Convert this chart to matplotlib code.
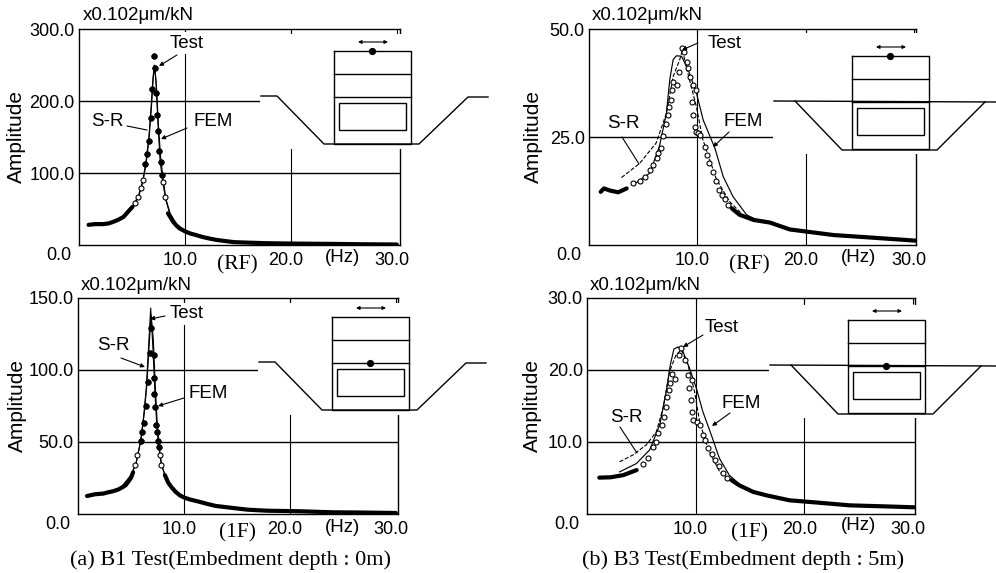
import numpy as np
import matplotlib
matplotlib.use("Agg")
import matplotlib.pyplot as plt
from matplotlib.patches import Rectangle
from matplotlib.transforms import ScaledTranslation

plt.rcParams["font.family"] = ["Liberation Sans", "DejaVu Sans"]

W, H = 996, 573

# B1 test, RF
a_test_x = [0.9, 1.5, 2.3, 2.8, 3.2, 3.7, 4.2, 4.5, 4.8, 5.05, 5.3, 5.6, 5.85, 6.05, 6.25, 6.4, 6.6, 6.75, 6.9, 7.08, 7.17,
            7.3, 7.35, 7.45, 7.55, 7.7, 7.8, 7.95, 8.1, 8.4, 8.65, 8.9, 9.2, 9.5, 10.0, 10.5, 11.0, 11.7, 12.3, 13.0, 14.6,
            15.5, 17.7, 20.0, 24.0, 27.0, 30.0]
a_test_y = [28, 29, 29, 30, 32, 35, 39, 44, 49, 53, 58, 67, 79, 90, 113, 127, 145, 176, 216, 263, 246,
            211, 180, 158, 130, 115, 97, 87, 67, 44, 38, 32, 27, 23, 19, 16, 14, 11, 9, 7, 4,
            3.5, 2.5, 2, 1.5, 1, 0.7]
a_sr_x = [1.0, 2.0, 3.0, 4.0, 5.0, 5.6, 6.0, 6.3, 6.6, 6.8, 6.95, 7.1, 7.25, 7.45, 7.65, 7.9, 8.2, 8.6, 9.2, 10.0, 12.0]
a_sr_y = [28, 29, 31, 37, 52, 68, 88, 113, 150, 190, 225, 250, 232, 170, 118, 88, 62, 42, 28, 19, 10]
a_fem_x = [5.0, 5.6, 6.0, 6.3, 6.6, 6.85, 7.0, 7.12, 7.3, 7.5, 7.7, 7.95, 8.2, 8.6, 9.2, 10.0]
a_fem_y = [52, 66, 86, 110, 146, 195, 232, 248, 222, 165, 122, 90, 64, 44, 29, 20]

# B1 test, 1F
c_test_x = [0.85, 1.6, 2.4, 2.8, 3.3, 3.8, 4.25, 4.5, 4.7, 5.0, 5.2, 5.35, 5.6, 5.9, 6.0, 6.2, 6.4, 6.6, 6.75, 6.92, 7.14,
            7.15, 7.2, 7.3, 7.4, 7.45, 7.55, 7.6, 7.7, 7.85, 8.2, 8.5, 8.8, 9.2, 9.6, 10.0, 10.5, 11.5, 12.2, 13.0, 14.6,
            16.0, 17.8, 20.9, 24.0, 27.0, 30.0]
c_test_y = [12.5, 13.7, 14.2, 15, 15.8, 17, 18.8, 20, 22, 25, 29, 33.9, 40.9, 51, 57, 63, 75, 91.5, 112, 129, 110.5,
            94.7, 83, 74.5, 61.8, 57, 51, 46.7, 40.9, 33.9, 27, 22, 18.8, 15.5, 13, 11.5, 10.2, 8.4, 7, 5.6, 4.2,
            3, 2.3, 1.9, 1.2, 1, 0.7]
c_sr_x = [1.0, 2.0, 3.0, 4.0, 5.0, 5.5, 5.9, 6.2, 6.45, 6.65, 6.86, 7.05, 7.25, 7.4, 7.6, 7.85, 8.2, 8.8, 9.6, 11.0]
c_sr_y = [13, 14, 15, 18, 27, 36, 50, 68, 88, 115, 143, 118, 86, 66, 48, 35, 27, 19, 13, 9]
c_fem_x = [5.0, 5.5, 5.95, 6.25, 6.5, 6.7, 6.9, 7.1, 7.3, 7.45, 7.65, 7.9, 8.2, 8.8]
c_fem_y = [26, 36, 52, 70, 90, 116, 138, 122, 88, 66, 47, 34, 27, 19]

# B3 test, RF
b_test_x = [1.08, 1.38, 1.94, 2.7, 3.48, 4.09, 4.71, 5.17, 5.63, 5.94, 6.25, 6.4, 6.62, 6.86, 7.11, 7.32, 7.42, 7.57, 7.63,
            7.78, 8.16, 8.34, 8.56, 8.8, 9.02, 9.17, 9.33, 9.63, 9.88, 9.48, 9.63, 9.79, 9.88, 10.1, 10.25, 10.71, 10.93,
            11.11, 11.42, 11.73, 12.03, 12.25, 12.56, 12.86, 13.18, 13.9, 15.2, 16.7, 18.55, 20.1, 22.6, 25.6, 30.2]
b_test_y = [12.3, 13.1, 12.6, 12.2, 13.1, 14.3, 14.7, 15.8, 17.4, 18.5, 20.1, 21.2, 22.4, 25.3, 27.9, 30.1, 32, 33.6, 35.9,
            37.8, 37, 40.1, 45.5, 44.7, 42.4, 40.9, 39, 37, 35.9, 33, 30.1, 27.4, 26.2, 25.9, 25.5, 22.8, 20.8,
            18.9, 17, 14.7, 12.7, 11.6, 10.6, 9.3, 8.5, 7, 5.8, 5.2, 3.6, 3.1, 2.3, 1.8, 1.0]
b_sr_x = [3.0, 4.68, 6.2, 7.15, 7.77, 8.38, 8.63, 9.0, 9.92, 10.5, 11.77, 13.0, 14.2]
b_sr_y = [15.6, 18.9, 23.6, 30.5, 39, 42.9, 45.2, 41, 32, 24.5, 15.2, 10, 7]
b_fem_x = [4.07, 5.6, 6.5, 7.15, 7.46, 7.77, 8.07, 8.54, 9.15, 9.92, 10.55, 11.63, 12.4, 13.3, 14.55, 15.5]
b_fem_y = [13.9, 16.6, 22.8, 30.5, 38.3, 42.9, 43.8, 43.7, 40.6, 35.2, 28.9, 22.4, 15.8, 11.2, 7, 5.8]

# B3 test, 1F
d_test_x = [1.13, 2.2, 3.34, 4.57, 5.18, 5.64, 6.04, 6.35, 6.56, 6.87, 7.08, 7.27, 7.39, 7.54, 7.64, 7.79, 8.1, 8.49, 8.62,
            9.02, 9.32, 9.63, 9.41, 9.54, 9.63, 9.78, 10.15, 10.4, 10.7, 10.86, 11.16, 11.47, 11.78, 12.17, 12.54, 12.85,
            13.3, 14.0, 15.3, 16.5, 18.65, 21.1, 24.2, 27.2, 30.15]
d_test_y = [5.05, 5.1, 5.4, 6.1, 7.0, 7.8, 9.3, 10, 11.2, 12.3, 13.5, 14.9, 16.3, 17.2, 18.2, 19.4, 18.8, 22.1, 23,
            21.4, 19.3, 18.6, 17.5, 15.8, 14.2, 13.1, 12.8, 12.4, 11, 10.3, 9.1, 8.3, 7.5, 6.6, 5.65, 5,
            4.7, 4, 3.07, 2.6, 1.9, 1.6, 1.2, 1.07, 0.93]
d_sr_x = [3.0, 4.23, 5.46, 6.38, 7.0, 7.6, 8.2, 8.68, 9.3, 9.9, 10.37, 11.13, 12.2, 13.1]
d_sr_y = [7.25, 8.2, 9.6, 11.4, 14.7, 19.8, 22.1, 22.8, 20.7, 17, 12.8, 9.1, 5.9, 4.7]
d_fem_x = [3.0, 4.54, 5.77, 6.7, 7.3, 7.67, 8.0, 8.37, 8.83, 9.45, 10.06, 10.67, 11.44, 12.2, 13.1, 14.0]
d_fem_y = [5.85, 7, 8.9, 12.4, 17, 20.7, 22.9, 23.2, 22.6, 20.2, 17.5, 14.2, 11, 7.7, 5.4, 4.2]

x_ticks = [10, 20, 30]
x_labels = ["10.0", "20.0", "30.0"]
a_yticks = [0, 100, 200, 300]
b_yticks = [0, 25, 50]
c_yticks = [0, 50, 100, 150]
d_yticks = [0, 10, 20, 30]


def px_axes(fig, left, right, top, bottom):
    return fig.add_axes([left / W, 1 - bottom / H, (right - left) / W, (bottom - top) / H])


def panel(fig, box, xmax, yticks, test, sr, fem, window, filled, dashed_sr, ylab_x):
    left, right, top, bottom = box
    ax = px_axes(fig, left, right, top, bottom)
    ax.set_xlim(0, xmax)
    ax.set_ylim(0, yticks[-1])
    for s in ax.spines.values():
        s.set_linewidth(1.0)
    ax.set_xticks(x_ticks)
    ax.set_xticklabels(x_labels, fontsize=13)
    ax.set_yticks(yticks)
    ax.set_yticklabels([f"{v:.1f}" for v in yticks], fontsize=13)
    ax.tick_params(axis="y", length=0, pad=3)
    ax.tick_params(axis="x", bottom=False, top=True, direction="in", length=4, pad=5)

    shift = ScaledTranslation(-5 / 100, 0, fig.dpi_scale_trans)
    for lab in ax.get_xticklabels():
        lab.set_transform(lab.get_transform() + shift)
    zero = ax.get_yticklabels()[0]
    zero.set_va("top")
    zero.set_transform(zero.get_transform() + ScaledTranslation(-3 / 100, -2 / 100, fig.dpi_scale_trans))

    for v in yticks[1:-1]:
        ax.axhline(v, color="k", lw=1.0, zorder=1)
    for v in x_ticks[:2]:
        ax.axvline(v, color="k", lw=0.8, zorder=1)

    tx = np.array(test[0])
    ty = np.array(test[1])
    inside = (tx > window[0]) & (tx < window[1])
    ax.plot(sr[0], sr[1], color="k", lw=0.8, ls="--" if dashed_sr else "-", zorder=2)
    ax.plot(fem[0], fem[1], color="k", lw=0.85, zorder=2)
    # the curve is so dense outside the peak that it reads as a solid band
    ax.plot(tx, np.where(inside, np.nan, ty), color="k", lw=3.0, solid_capstyle="round", zorder=3)
    ax.plot(tx[inside], ty[inside], ls="none", marker="o", ms=3.6, mfc="white", mec="k", mew=0.8, zorder=4)
    if filled:
        high = ty > yticks[-1] * 0.3
        ax.plot(tx[high], ty[high], ls="none", marker="o", ms=3.4, color="k", zorder=5)

    fig.text(ylab_x / W, 1 - (top + bottom) / 2 / H, "Amplitude", rotation=90, fontsize=15,
             ha="center", va="center")
    return ax


def schematic(ov, bx, by, embedded, on_top, patch_top):
    # ground cut and building, everything relative to the building's top left corner
    gap = 79 if embedded else 74
    ov.add_patch(Rectangle((bx - gap, patch_top), gap + 170, by + 98 - patch_top, fc="white", ec="none", zorder=1))
    lw = 1.0
    if embedded:
        ov.plot([bx - 78, min(bx + 148, W)], [by + 45, by + 46], color="k", lw=lw, zorder=2)
        ov.plot([bx - 57, bx - 10, bx + 85, bx + 133], [by + 45, by + 94, by + 94, by + 46], color="k", lw=lw, zorder=2)
    else:
        ov.plot([bx - 73, bx - 57, bx - 10, bx + 85, bx + 134, bx + 154],
                [by + 45, by + 45, by + 93, by + 93, by + 46, by + 46], color="k", lw=lw, zorder=2)
    ov.plot([bx, bx + 77, bx + 77, bx, bx], [by, by, by + 93, by + 93, by], color="k", lw=lw, zorder=2)
    ov.plot([bx, bx + 77], [by + 23, by + 23], color="k", lw=lw, zorder=2)
    ov.plot([bx, bx + 77], [by + 46, by + 46], color="k", lw=lw, zorder=2)
    ov.add_patch(Rectangle((bx + 5, by + 52), 67, 27, fc="none", ec="k", lw=lw, zorder=2))
    ov.plot([bx + 38], [by if on_top else by + 46], marker="o", ms=4.2, color="k", zorder=3)
    ov.annotate("", xy=(bx + 24, by - 9), xytext=(bx + 54, by - 9),
                arrowprops=dict(arrowstyle="<|-|>", color="k", lw=0.8, mutation_scale=5, shrinkA=0, shrinkB=0))


def callout(ov, label, text_at, start, end, head=True, white=False):
    ov.text(text_at[0], text_at[1], label, fontsize=13.5, ha="center", va="center", zorder=4,
            bbox=dict(fc="white", ec="none", pad=1.5) if white else None)
    ov.annotate("", xy=end, xytext=start,
                arrowprops=dict(arrowstyle="-|>" if head else "-", color="k", lw=0.8, mutation_scale=6,
                                shrinkA=0, shrinkB=0), zorder=4)


fig = plt.figure(figsize=(W / 100, H / 100), dpi=100)

panel(fig, (79, 400, 29, 245), 30.3, a_yticks, (a_test_x, a_test_y), (a_sr_x, a_sr_y), (a_fem_x, a_fem_y),
      (5.25, 8.2), True, False, 16)
panel(fig, (589, 916, 29, 245), 30.2, b_yticks, (b_test_x, b_test_y), (b_sr_x, b_sr_y), (b_fem_x, b_fem_y),
      (3.6, 13.0), False, True, 533)
panel(fig, (78, 398, 298, 514), 30.2, c_yticks, (c_test_x, c_test_y), (c_sr_x, c_sr_y), (c_fem_x, c_fem_y),
      (5.25, 8.1), True, False, 17)
panel(fig, (587, 915, 298, 514), 30.2, d_yticks, (d_test_x, d_test_y), (d_sr_x, d_sr_y), (d_fem_x, d_fem_y),
      (4.6, 13.0), False, True, 532)

ov = fig.add_axes([0, 0, 1, 1], zorder=5)
ov.set_xlim(0, W)
ov.set_ylim(H, 0)
ov.axis("off")

schematic(ov, 334, 51, False, True, 34)
schematic(ov, 852, 56, True, True, 33)
schematic(ov, 332, 317, False, False, 303)
schematic(ov, 848, 320, True, False, 305)

callout(ov, "Test", (187, 43), (177, 55), (159, 66), white=True)
callout(ov, "S-R", (107, 121), (127, 126), (147, 130), head=False)
callout(ov, "FEM", (213, 121), (187, 128), (161, 139))
callout(ov, "Test", (725, 43), (698, 43), (682, 50))
callout(ov, "S-R", (623, 124), (622, 137), (639, 164), head=False)
callout(ov, "FEM", (743, 122), (729, 132), (713, 147))
callout(ov, "Test", (187, 314), (165, 316), (150, 319), white=True)
callout(ov, "S-R", (113, 346), (121, 358), (145, 367))
callout(ov, "FEM", (208, 394), (184, 398), (158, 406))
callout(ov, "Test", (722, 327), (703, 335), (683, 347))
callout(ov, "S-R", (626, 417), (620, 427), (637, 453), head=False)
callout(ov, "FEM", (741, 404), (730, 413), (712, 426))

for lx, ly in [(83, 15), (592, 15), (81, 285), (590, 285)]:
    ov.text(lx, ly, "x0.102\u03bcm/kN", fontsize=13.5, ha="left", va="center")
for lx, ly in [(343, 258), (858, 257), (342, 527), (858, 525)]:
    ov.text(lx, ly, "(Hz)", fontsize=13.5, ha="center", va="center")
serif = ["Liberation Serif", "DejaVu Serif"]
for lx, ly, s in [(237, 265, "(RF)"), (749, 265, "(RF)"), (237, 533, "(1F)"), (750, 533, "(1F)")]:
    ov.text(lx, ly, s, fontsize=15.5, ha="center", va="center", family=serif)
ov.text(230, 560, "(a) B1 Test(Embedment depth : 0m)", fontsize=16, ha="center", va="center", family=serif)
ov.text(743, 560, "(b) B3 Test(Embedment depth : 5m)", fontsize=16, ha="center", va="center", family=serif)

fig.savefig("out.png", dpi=100)
